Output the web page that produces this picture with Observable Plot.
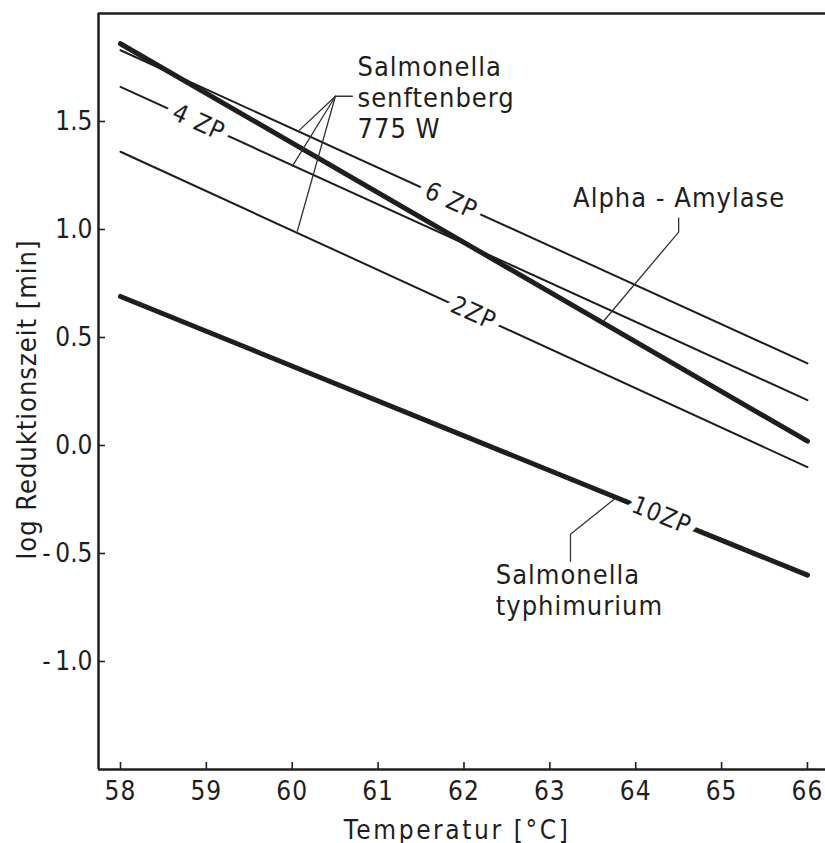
<!DOCTYPE html>
<html><head><meta charset="utf-8">
<script src="https://cdn.jsdelivr.net/npm/d3@7"></script>
<script src="https://cdn.jsdelivr.net/npm/@observablehq/plot@0.6"></script>
<style>
body{margin:0;background:#fff;}
svg text{letter-spacing:1px;}
</style></head><body><div id="chart"></div>
<script>
// ---- data ----
const xTicks = [58, 59, 60, 61, 62, 63, 64, 65, 66];
const yTicks = [-1.0, -0.5, 0.0, 0.5, 1.0, 1.5];
const temps = [58, 66];
const seriesNames = ["Alpha-Amylase", "6ZP", "4ZP", "2ZP", "10ZP"];
const seriesThick = [true, false, false, false, true];
const alphaAmylase = [1.86, 0.02];
const zp6 = [1.83, 0.38];
const zp4 = [1.66, 0.21];
const zp2 = [1.36, -0.10];
const zp10 = [0.69, -0.60];
const seriesValues = [alphaAmylase, zp6, zp4, zp2, zp10];

const lineLabels = ["4 ZP", "6 ZP", "2ZP", "10ZP"];
const lineLabelX = [58.91, 61.85, 62.11, 64.30];
const lineLabelY = [1.495, 1.133, 0.612, -0.324];
const lineLabelAngle = [24.5, 24.5, 24.5, 22.2];

const noteTexts = ["Salmonella\nsenftenberg\n775 W", "Alpha - Amylase", "Salmonella\ntyphimurium"];
const noteX = [60.76, 63.27, 62.37];
const noteY = [1.815, 1.206, -0.54];

// leader polylines (temperature, log value)
const leaderSenft1 = [[60.70, 1.617], [60.503, 1.617], [60.084, 1.46]];
const leaderSenft2 = [[60.503, 1.617], [60.002, 1.293]];
const leaderSenft3 = [[60.503, 1.617], [60.06, 0.993]];
const leaderAlpha = [[64.50, 1.053], [64.50, 0.988], [63.62, 0.573]];
const leaderTyph = [[63.24, -0.536], [63.24, -0.411], [63.76, -0.245]];
const leaders = [leaderSenft1, leaderSenft2, leaderSenft3, leaderAlpha, leaderTyph];

const xLabel = "Temperatur [°C]";
const yLabel = "log Reduktionszeit [min]";
const xDomain = [57.744, 66.21];
const yDomain = [-1.5, 2.0];

// ---- tables ----
const rows = [];
seriesNames.forEach((s, i) => temps.forEach((t, j) => rows.push({series: s, thick: seriesThick[i], x: t, y: seriesValues[i][j]})));
const labelRows = lineLabels.map((t, i) => ({text: t, x: lineLabelX[i], y: lineLabelY[i], a: lineLabelAngle[i]}));
const noteRows = noteTexts.map((t, i) => ({text: t, x: noteX[i], y: noteY[i]}));
const leaderRows = [];
leaders.forEach((pts, i) => pts.forEach(p => leaderRows.push({id: i, x: p[0], y: p[1]})));

const ink = "#1e1e1e";
const font = "DejaVu Sans Condensed, DejaVu Sans, sans-serif";
const fmtY = d => d < 0 ? "-\u2009" + (-d).toFixed(1) : d.toFixed(1);

const chart = Plot.plot({
  width: 825, height: 843,
  marginLeft: 98, marginRight: 0, marginTop: 13, marginBottom: 74,
  style: {fontFamily: font, background: "#fff", color: ink},
  x: {domain: xDomain, label: null},
  y: {domain: yDomain, label: null},
  marks: [
    Plot.ruleX([xDomain[0]], {stroke: ink, strokeWidth: 2.5}),
    Plot.ruleY(yDomain, {stroke: ink, strokeWidth: 2.5}),
    // inward tick marks
    Plot.ruleX(xTicks, {x: d => d, y1: yDomain[0], y2: yDomain[0], insetTop: -7, stroke: ink, strokeWidth: 1.6}),
    Plot.ruleY(yTicks, {y: d => d, x1: xDomain[0], x2: xDomain[0], insetRight: -7, stroke: ink, strokeWidth: 1.6}),
    Plot.axisX(xTicks, {tickSize: 0, tickPadding: 12, fontSize: 26, tickFormat: d => String(d)}),
    Plot.axisY(yTicks, {tickSize: 0, tickPadding: 6, fontSize: 26, tickFormat: fmtY}),
    Plot.line(rows.filter(d => !d.thick), {x: "x", y: "y", z: "series", stroke: ink, strokeWidth: 2}),
    Plot.line(rows.filter(d => d.thick), {x: "x", y: "y", z: "series", stroke: ink, strokeWidth: 5}),
    Plot.text(labelRows, {x: "x", y: "y", text: "text", rotate: "a", fontSize: 25, fill: ink, stroke: "white", strokeWidth: 15, strokeLinejoin: "round"}),
    Plot.line(leaderRows, {x: "x", y: "y", z: "id", stroke: "#333", strokeWidth: 1.3}),
    Plot.text(noteRows, {x: "x", y: "y", text: "text", textAnchor: "start", lineAnchor: "top", lineHeight: 1.15, fontSize: 27, fill: ink}),
    Plot.text([xLabel], {x: 61.92, frameAnchor: "bottom", dy: 69, lineAnchor: "bottom", fontSize: 26, fill: ink}),
    Plot.text([yLabel], {frameAnchor: "left", textAnchor: "middle", rotate: -90, dx: -63, dy: 8, lineAnchor: "bottom", fontSize: 27, fill: ink})
  ]
});
d3.select(chart).selectAll("text").filter(function() { return this.textContent === xLabel; }).style("letter-spacing", "2.6px");
d3.select(chart).selectAll("g[aria-label='y-axis tick label'] text").style("letter-spacing", "0px");
document.getElementById("chart").appendChild(chart);
</script></body></html>
